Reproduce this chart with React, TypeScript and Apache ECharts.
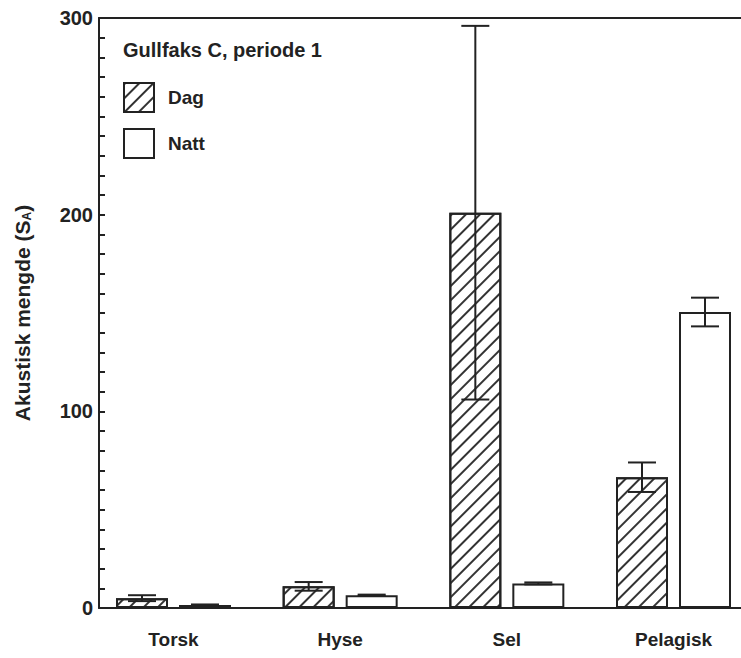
import React, { useEffect, useRef } from 'react';
import * as echarts from 'echarts';

const categories = ['Torsk', 'Hyse', 'Sel', 'Pelagisk'];
const seriesNames = ['Dag', 'Natt'];
const dagValues = [5, 11, 201, 66.5];
const dagErrors = [1.5, 2.2, 95, 7.5];
const nattValues = [1.5, 6.5, 12.5, 150.5];
const nattErrors = [0.3, 0.3, 0.5, 7.3];
const yTicks = [0, 100, 200, 300];
const yMinorStep = 10;
const titleText = 'Gullfaks C, periode 1';
const yAxisName = 'Akustisk mengde (S{sub|A})';

const FONT = "'Liberation Sans', Arial, Helvetica, sans-serif";
const INK = '#222';
const BAR_W = 52;
const BAR_GAP = 11;
const HALF_STEP = (BAR_W + BAR_GAP) / 2;
const positions = categories.map((_, i) => i + 1);

function errorSeries(values: number[], errors: number[], dir: number) {
  return {
    type: 'custom',
    z: 5,
    silent: true,
    encode: { x: 0, y: [1, 2] },
    data: positions.map((p, i) => [p, values[i] - errors[i], values[i] + errors[i]]),
    renderItem: (params: any, api: any) => {
      const x = api.value(0);
      const a = api.coord([x, api.value(1)]);
      const b = api.coord([x, api.value(2)]);
      const cx = a[0] + dir * HALF_STEP;
      const cap = 14;
      const style = { stroke: INK, lineWidth: 2 };
      return {
        type: 'group',
        children: [
          { type: 'line', shape: { x1: cx, y1: a[1], x2: cx, y2: b[1] }, style },
          { type: 'line', shape: { x1: cx - cap, y1: a[1], x2: cx + cap, y2: a[1] }, style },
          { type: 'line', shape: { x1: cx - cap, y1: b[1], x2: cx + cap, y2: b[1] }, style },
        ],
      };
    },
  };
}

export default function App() {
  const ref = useRef<HTMLDivElement>(null);
  useEffect(() => {
    if (!ref.current) return;
    const chart = echarts.init(ref.current, null, { renderer: 'svg' });
    const xCommon = {
      type: 'value',
      min: 0.553,
      max: 4.405,
      splitLine: { show: false },
      axisTick: { show: false },
      axisLine: { show: true, onZero: false, lineStyle: { color: INK, width: 2 } },
    };
    chart.setOption({
      animation: false,
      backgroundColor: '#fff',
      title: {
        text: titleText,
        left: 123,
        top: 40,
        padding: 0,
        textStyle: { fontFamily: FONT, fontSize: 20, fontWeight: 'bold', color: INK },
      },
      legend: {
        data: seriesNames,
        orient: 'vertical',
        left: 123,
        top: 82,
        padding: 0,
        itemWidth: 30,
        itemHeight: 29,
        itemGap: 15,
        icon: 'rect',
        textStyle: { fontFamily: FONT, fontSize: 19, fontWeight: 'bold', color: INK, padding: [0, 0, 0, 9] },
      },
      grid: { left: 99, right: 0, top: 18, bottom: 50 },
      xAxis: [
        {
          ...xCommon,
          position: 'bottom',
          axisLabel: {
            customValues: positions,
            formatter: (v: number) => categories[Math.round(v) - 1] ?? '',
            margin: 22,
            fontFamily: FONT,
            fontSize: 19,
            fontWeight: 'bold',
            color: INK,
          },
        },
        { ...xCommon, position: 'top', axisLabel: { show: false } },
      ],
      yAxis: {
        type: 'value',
        min: yTicks[0],
        max: yTicks[yTicks.length - 1],
        interval: yMinorStep,
        splitLine: { show: false },
        axisLine: { show: true, lineStyle: { color: INK, width: 2 } },
        axisTick: { show: true, inside: true, length: 6, lineStyle: { color: INK, width: 2 } },
        axisLabel: {
          customValues: yTicks,
          margin: 6,
          fontFamily: FONT,
          fontSize: 20,
          fontWeight: 'bold',
          color: INK,
        },
        name: yAxisName,
        nameLocation: 'middle',
        nameGap: 66,
        nameRotate: 90,
        nameTextStyle: {
          fontFamily: FONT,
          fontSize: 21,
          fontWeight: 'bold',
          color: INK,
          rich: { sub: { fontFamily: FONT, fontSize: 12, fontWeight: 'bold', color: INK, verticalAlign: 'bottom', padding: [8, 0, 0, 0] } },
        },
      },
      series: [
        {
          name: seriesNames[0],
          type: 'bar',
          barWidth: BAR_W,
          barGap: (BAR_GAP / BAR_W) * 100 + '%',
          data: positions.map((p, i) => [p, dagValues[i]]),
          itemStyle: {
            color: '#fff',
            borderColor: INK,
            borderWidth: 2,
            decal: {
              symbol: 'rect',
              symbolSize: 1,
              color: '#333',
              backgroundColor: '#fff',
              dashArrayX: [1, 0],
              dashArrayY: [1.6, 7.6],
              rotation: -Math.PI / 4,
            },
          },
        },
        {
          name: seriesNames[1],
          type: 'bar',
          barWidth: BAR_W,
          barGap: (BAR_GAP / BAR_W) * 100 + '%',
          data: positions.map((p, i) => [p, nattValues[i]]),
          itemStyle: { color: '#fff', borderColor: INK, borderWidth: 2 },
        },
        errorSeries(dagValues, dagErrors, -1),
        errorSeries(nattValues, nattErrors, 1),
      ],
    });
    return () => chart.dispose();
  }, []);
  return (
    <div
      ref={ref}
      style={{ position: 'fixed', left: 0, top: 0, width: 741, height: 658, background: '#fff' }}
    />
  );
}
